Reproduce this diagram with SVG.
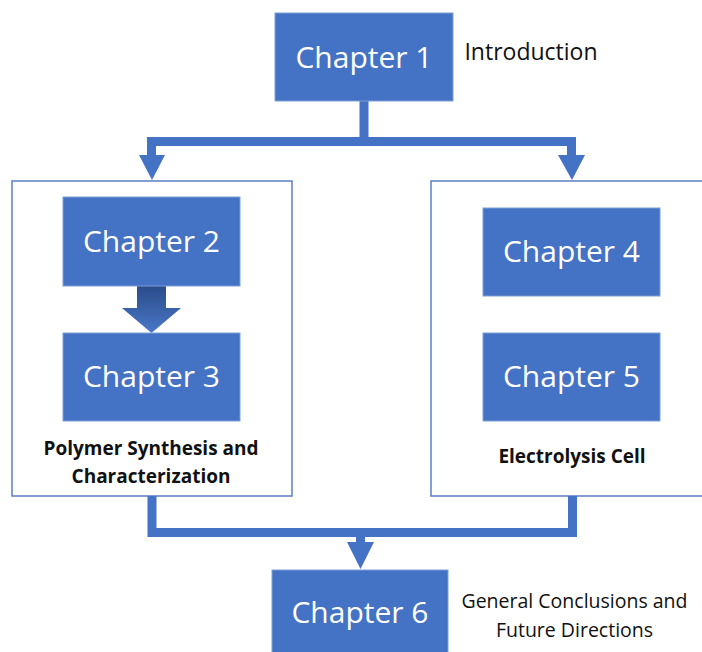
<svg xmlns="http://www.w3.org/2000/svg" width="702" height="652" viewBox="0 0 702 652">
<defs>
<style>
.box{fill:#4472c4;stroke:#7f9fd6;stroke-width:1}
.frame{fill:#ffffff;stroke:#5a7fc4;stroke-width:1.5}
.ch{font-family:"Open Sans","Liberation Sans",sans-serif;font-size:30px;fill:#ffffff;text-anchor:middle}
.note{font-family:"Open Sans","Liberation Sans",sans-serif;fill:#111111;text-anchor:middle}
.lbl{font-family:"Open Sans","Liberation Sans",sans-serif;font-weight:bold;font-size:19px;fill:#111111;text-anchor:middle}
.conn{fill:none;stroke:#4472c4;stroke-width:9;stroke-linejoin:miter}
.head{fill:#4472c4}
</style>
<linearGradient id="g23" x1="0" y1="0" x2="0" y2="1">
<stop offset="0" stop-color="#2a4c8a"/>
<stop offset="1" stop-color="#4a78c8"/>
</linearGradient>
</defs>
<rect width="702" height="652" fill="#ffffff"/>
<g id="frame-left"><rect class="frame" x="12" y="181" width="280" height="315"/>
<text class="lbl" x="151" y="455">Polymer Synthesis and</text>
<text class="lbl" x="151" y="483">Characterization</text></g>
<g id="frame-right"><rect class="frame" x="431" y="181" width="290" height="315"/>
<text class="lbl" x="572" y="463">Electrolysis Cell</text></g>
<g id="connectors">
<polyline class="conn" points="364,101 364,141.5 151.5,141.5 151.5,156"/>
<polyline class="conn" points="364,141.5 571.5,141.5 571.5,156"/>
<polygon class="head" points="139,155 165,155 152,180"/>
<polygon class="head" points="558,155 585,155 572,180"/>
<polyline class="conn" points="152,496 152,532.5 360.5,532.5 360.5,543"/>
<polyline class="conn" points="572.5,496 572.5,532.5 360.5,532.5"/>
<polygon class="head" points="347,542 374,542 360.5,569"/>
<polygon fill="url(#g23)" points="137,286 166,286 166,308 181,308 151.5,333 122,308 137,308"/>
</g>
<g id="ch1"><rect class="box" x="275" y="13" width="178" height="88"/><text class="ch" x="364" y="68">Chapter 1</text></g>
<g id="intro"><text class="note" x="531" y="60" font-size="23">Introduction</text></g>
<g id="ch2"><rect class="box" x="63" y="197" width="177" height="89"/><text class="ch" x="151.5" y="252">Chapter 2</text></g>
<g id="ch3"><rect class="box" x="63" y="333" width="177" height="88"/><text class="ch" x="151.5" y="387">Chapter 3</text></g>
<g id="ch4"><rect class="box" x="483" y="208" width="177" height="88"/><text class="ch" x="571.5" y="262">Chapter 4</text></g>
<g id="ch5"><rect class="box" x="483" y="333" width="177" height="88"/><text class="ch" x="571.5" y="387">Chapter 5</text></g>
<g id="ch6"><rect class="box" x="272" y="570" width="176" height="90"/><text class="ch" x="360" y="623">Chapter 6</text></g>
<g id="conclusions"><text class="note" x="574.5" y="608" font-size="19.5">General Conclusions and</text>
<text class="note" x="574.5" y="637" font-size="19.5">Future Directions</text></g>
</svg>
